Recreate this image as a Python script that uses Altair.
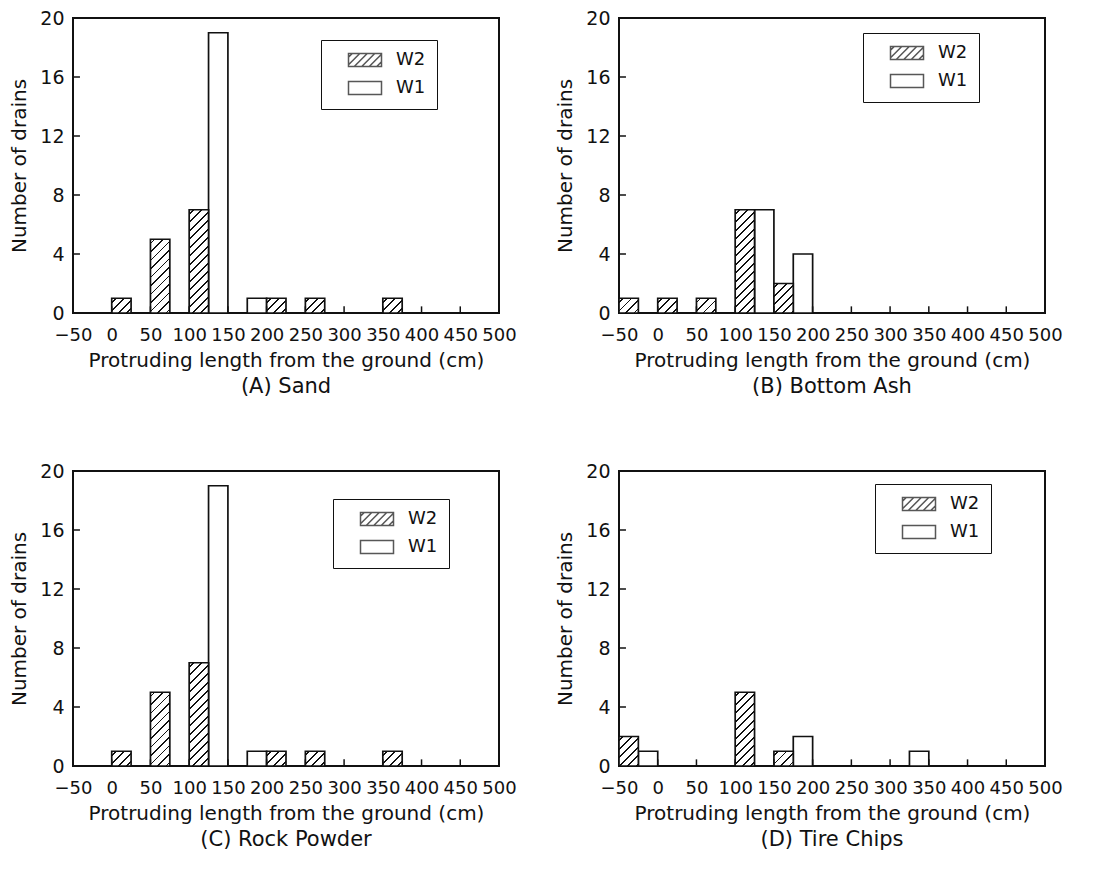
import altair as alt
import pandas as pd

# ---------------- data ----------------
bins = [-50, 0, 50, 100, 150, 200, 250, 300, 350, 400, 450]   # left edge of each 50 cm class
series = ["W2", "W1"]

sand_w2 = [0, 1, 5, 7, 0, 1, 1, 0, 1, 0, 0]
sand_w1 = [0, 0, 0, 19, 1, 0, 0, 0, 0, 0, 0]
ash_w2 = [1, 1, 1, 7, 2, 0, 0, 0, 0, 0, 0]
ash_w1 = [0, 0, 0, 7, 4, 0, 0, 0, 0, 0, 0]
rock_w2 = [0, 1, 5, 7, 0, 1, 1, 0, 1, 0, 0]
rock_w1 = [0, 0, 0, 19, 1, 0, 0, 0, 0, 0, 0]
tire_w2 = [2, 0, 0, 5, 1, 0, 0, 0, 0, 0, 0]
tire_w1 = [1, 0, 0, 0, 2, 0, 0, 1, 0, 0, 0]

x_ticks = [-50, 0, 50, 100, 150, 200, 250, 300, 350, 400, 450, 500]
y_ticks = [0, 4, 8, 12, 16, 20]
captions = ["(A) Sand", "(B) Bottom Ash", "(C) Rock Powder", "(D) Tire Chips"]
x_title = "Protruding length from the ground (cm)"
y_title = "Number of drains"

# ---------------- styling ----------------
W, H = 426, 295
XDOM = [x_ticks[0], x_ticks[-1]]
YDOM = [y_ticks[0], y_ticks[-1]]
FONT = "DejaVu Sans"
INK = "#111111"
half = (bins[1] - bins[0]) / 2


def hatch(count, period=8.5, thick=1.8):
    """diagonal '/' hatch as a banded linear gradient for a bar of given count"""
    w = half * W / (XDOM[1] - XDOM[0])
    h = count * H / (YDOM[1] - YDOM[0])
    total = w + h
    k = total / (w * w + h * h)
    stops = [{"offset": 0, "color": "white"}]
    c = period / 2
    while c - thick / 2 < total:
        a = round(max(0.0, (c - thick / 2) / total), 5)
        b = round(min(1.0, (c + thick / 2) / total), 5)
        stops += [{"offset": a, "color": "white"}, {"offset": a, "color": INK},
                  {"offset": b, "color": INK}, {"offset": b, "color": "white"}]
        c += period
    stops.append({"offset": 1, "color": "white"})
    return {"gradient": "linear", "x1": 0, "y1": 0,
            "x2": round(k * w, 5), "y2": round(k * h, 5), "stops": stops}


# legend swatch paths (symbol units: 1 unit = sqrt(size)/2 px)
SYM = 169
u = (SYM ** 0.5) / 2
xl, xr = (14 - u) / u, (47 - u) / u


def rect_path():
    return f"M{xl:.3f},-1H{xr:.3f}V1H{xl:.3f}Z"


def hatch_path(period_px=7.5):
    p = period_px / u
    parts = [rect_path()]
    x0 = xl - 2 + p / 2
    while x0 < xr:
        sx, sy, ex, ey = x0, 1.0, x0 + 2, -1.0
        if sx < xl:
            sy = 1 - (xl - sx)
            sx = xl
        if ex > xr:
            ey = -1 + (ex - xr)
            ex = xr
        if ex - sx > 0.05:
            parts.append(f"M{sx:.3f},{sy:.3f}L{ex:.3f},{ey:.3f}")
        x0 += p
    return "".join(parts)


X_AXIS = alt.Axis(values=x_ticks, title=x_title, tickSize=0, domain=False, grid=False,
                  labelFontSize=18, labelPadding=13, titleFontSize=20, titlePadding=6,
                  titleFontWeight="normal", labelFlush=False, labelOverlap=False)
Y_AXIS = alt.Axis(values=y_ticks, title=y_title, tickSize=0, domain=False, grid=False,
                  labelFontSize=19, labelPadding=9, titleFontSize=20, titlePadding=10,
                  titleFontWeight="normal", labelFlush=False, labelOverlap=False)
X_SCALE = alt.Scale(domain=XDOM, nice=False, zero=False)
Y_SCALE = alt.Scale(domain=YDOM, nice=False)


def panel(w2, w1, caption, lx, ly):
    rows = []
    for b, c2, c1 in zip(bins, w2, w1):
        rows.append({"bin": b, "series": "W2", "count": c2, "x0": b, "x1": b + half})
        rows.append({"bin": b, "series": "W1", "count": c1, "x0": b + half, "x1": b + 2 * half})
    df = pd.DataFrame(rows)

    xs = alt.X("x0:Q", scale=X_SCALE, axis=X_AXIS, title=x_title)
    ys = alt.Y("count:Q", scale=Y_SCALE, axis=Y_AXIS, title=y_title)
    base = alt.Chart(df).encode(x=xs, x2="x1:Q", y=ys, y2=alt.datum(0))

    layers = [base.transform_filter("datum.series == 'W1' && datum.count > 0")
              .mark_bar(fill="white", stroke=INK, strokeWidth=1.7)]
    for c in sorted(set(v for v in w2 if v > 0)):
        layers.append(base.transform_filter(f"datum.series == 'W2' && datum.count == {c}")
                      .mark_bar(fill=hatch(c), stroke=INK, strokeWidth=1.7))

    xt = alt.Chart(pd.DataFrame({"x0": x_ticks[1:-1]})).mark_rule(color=INK, strokeWidth=1.5).encode(
        x=alt.X("x0:Q", scale=X_SCALE, axis=X_AXIS, title=x_title),
        y=alt.YDatum(0, scale=Y_SCALE, axis=Y_AXIS, title=y_title), y2=alt.datum(0.45))
    yt = alt.Chart(pd.DataFrame({"count": y_ticks[1:-1]})).mark_rule(color=INK, strokeWidth=1.5).encode(
        y=alt.Y("count:Q", scale=Y_SCALE, axis=Y_AXIS, title=y_title),
        x=alt.XDatum(XDOM[0], scale=X_SCALE, axis=X_AXIS, title=x_title), x2=alt.datum(XDOM[0] + 9))

    leg = alt.Chart(pd.DataFrame({"series": series, "x0": [0, 0], "count": [0, 0]})) \
        .transform_filter("datum.x0 > 1000") \
        .mark_point(filled=False, color=INK, strokeWidth=1.5).encode(
        x=xs, y=ys,
        shape=alt.Shape("series:N",
                        scale=alt.Scale(domain=series, range=[hatch_path(), rect_path()]),
                        legend=alt.Legend(title=None, orient="none", legendX=lx, legendY=ly,
                                          strokeColor=INK, fillColor="white",
                                          padding=11, symbolSize=SYM, symbolStrokeColor=INK,
                                          symbolStrokeWidth=1.5, symbolFillColor="white",
                                          labelFontSize=18, labelOffset=46, rowPadding=8,
                                          labelColor=INK, labelFont=FONT,
                                          labelExpr="datum.label + '   '")))

    return alt.layer(*layers, xt, yt, leg).properties(
        width=W, height=H,
        title=alt.TitleParams(caption, orient="bottom", fontSize=21, fontWeight="normal",
                              offset=6, anchor="middle", color=INK, font=FONT))


pA = panel(sand_w2, sand_w1, captions[0], 248, 22)
pB = panel(ash_w2, ash_w1, captions[1], 244, 15)
pC = panel(rock_w2, rock_w1, captions[2], 260, 28)
pD = panel(tire_w2, tire_w1, captions[3], 256, 13)

row1 = alt.hconcat(pA, pB, spacing=36).resolve_scale(shape="independent").resolve_legend(shape="independent")
row2 = alt.hconcat(pC, pD, spacing=36).resolve_scale(shape="independent").resolve_legend(shape="independent")

chart = alt.vconcat(row1, row2, spacing=63).resolve_scale(shape="independent").resolve_legend(
    shape="independent").properties(padding={"left": 0, "top": 0, "right": 0, "bottom": 0}).configure(
    background="white").configure_view(stroke=INK, strokeWidth=2).configure_axis(
    labelFont=FONT, titleFont=FONT, labelColor=INK, titleColor=INK).configure_axisX(labelOverlap=False)

chart.save("out.html", embed_options={"renderer": "svg", "actions": False})
